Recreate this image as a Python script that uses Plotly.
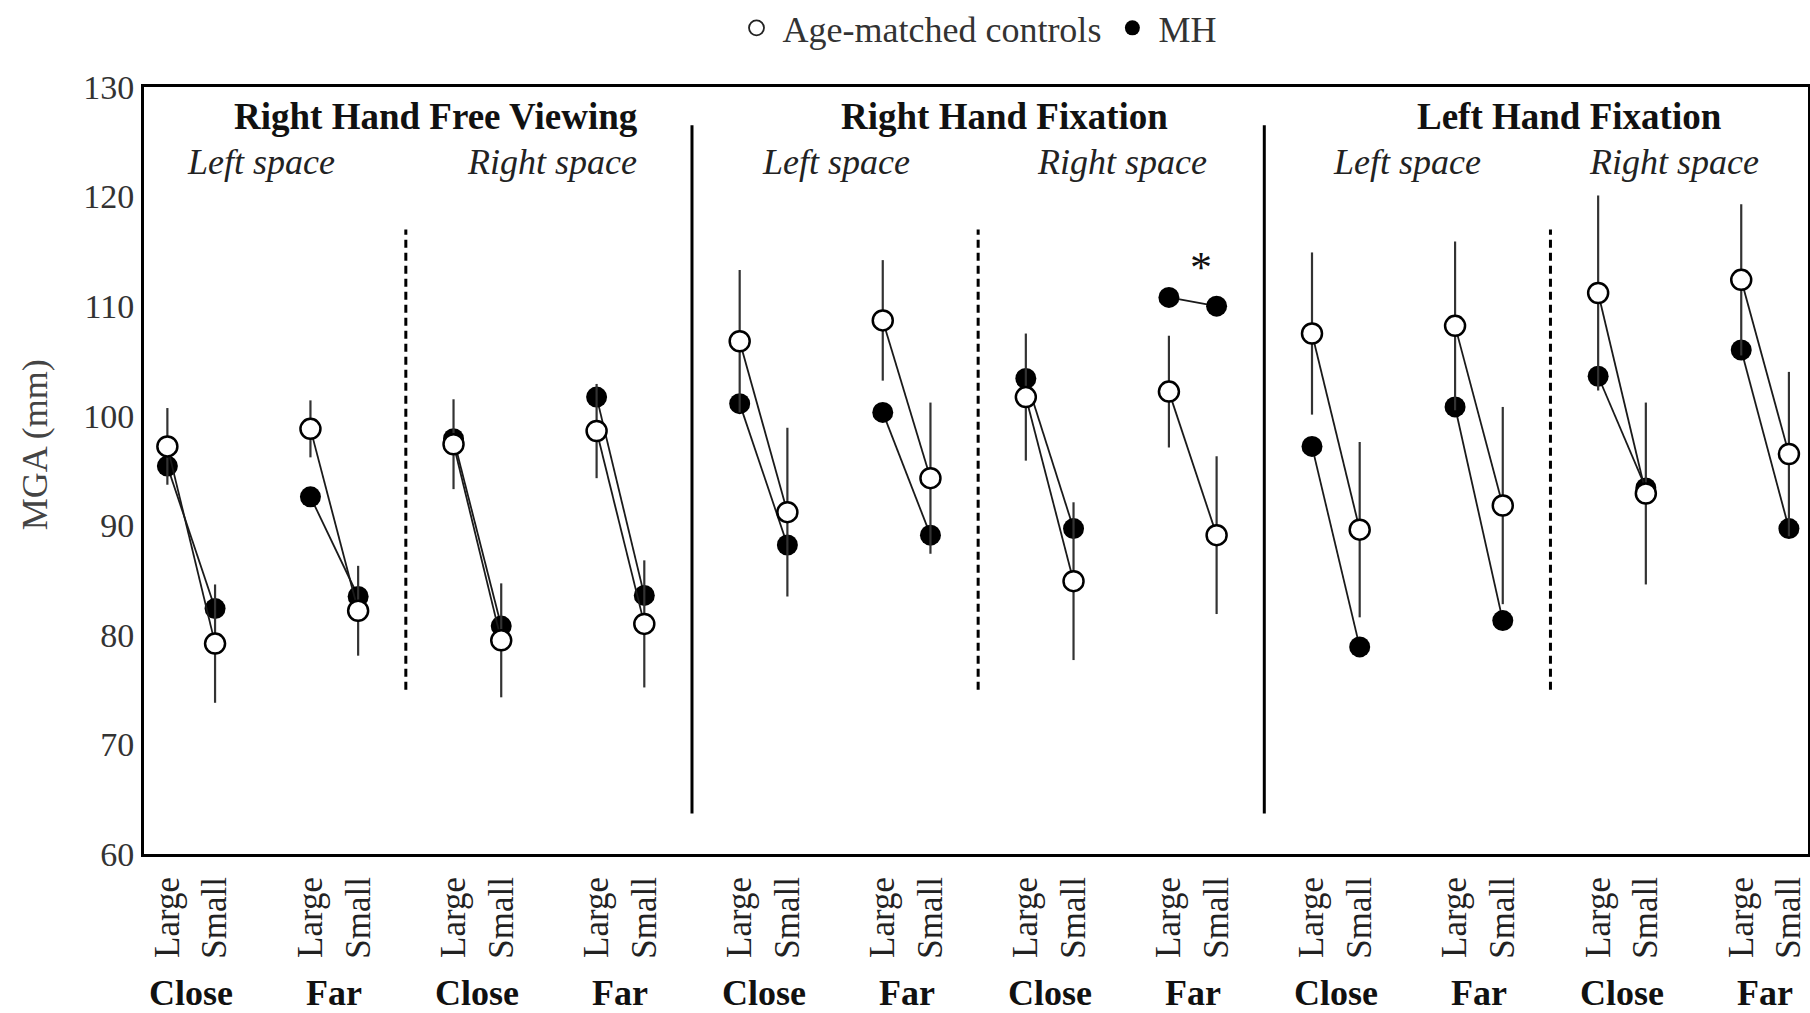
import plotly.graph_objects as go

# ---------------- data ----------------
distance = ["Close", "Far"] * 6
size_labels = ["Large", "Small"]

ctrl_large = [97.2, 98.8, 97.4, 98.6, 106.8, 108.7, 101.7, 102.2, 107.5, 108.2, 111.2, 112.4]
ctrl_small = [79.2, 82.2, 79.5, 81.0, 91.2, 94.3, 84.9, 89.1, 89.6, 91.8, 92.9, 96.5]
ctrl_sd_large = [3.5, 2.6, 4.1, 4.3, 6.5, 5.5, 5.8, 5.1, 7.4, 7.7, 8.9, 6.9]
ctrl_sd_small = [5.4, 4.1, 5.2, 5.8, 7.7, 6.9, 7.2, 7.2, 8.0, 9.0, 8.3, 7.5]

mh_large = [95.4, 92.6, 97.9, 101.7, 101.1, 100.3, 103.4, 110.8, 97.2, 100.8, 103.6, 106.0]
mh_small = [82.4, 83.5, 80.8, 83.6, 88.2, 89.1, 89.7, 110.0, 78.9, 81.3, 93.4, 89.7]

panel_titles = ["Right Hand Free Viewing", "Right Hand Fixation", "Left Hand Fixation"]
space_labels = ["Left space", "Right space"] * 3
y_ticks = [60, 70, 80, 90, 100, 110, 120, 130]

# ---------------- layout helpers ----------------
FONT = "Liberation Serif"
panel_title_x = [5.64, 17.55, 29.4]
space_label_x = [1.96, 8.06, 14.02, 20.02, 26.0, 31.6]
solid_sep_x = [11, 23]
dashed_sep_x = [5, 17, 29]


def pos(g, s):
    return 3 * g + s


def series(large, small, err_l=None, err_s=None):
    xs, ys, es = [], [], []
    for g in range(len(large)):
        xs += [pos(g, 0), pos(g, 1), None]
        ys += [large[g], small[g], None]
        if err_l is not None:
            es += [err_l[g], err_s[g], 0]
    return xs, ys, es


fig = go.Figure()

# MH (single patient) - drawn first
mx, my, _ = series(mh_large, mh_small)
fig.add_trace(go.Scatter(
    x=mx, y=my, mode="lines+markers", showlegend=False,
    line=dict(color="#1a1a1a", width=1.8),
    marker=dict(size=21, color="black", line=dict(width=0)),
))

# Age-matched controls with SD
cx, cy, ce = series(ctrl_large, ctrl_small, ctrl_sd_large, ctrl_sd_small)
fig.add_trace(go.Scatter(
    x=cx, y=cy, mode="lines+markers", showlegend=False,
    line=dict(color="#1a1a1a", width=1.8),
    marker=dict(size=20, color="white", line=dict(color="black", width=2.5)),
    error_y=dict(type="data", array=ce, visible=True, color="#333333", thickness=2.2, width=0),
))

# legend entries
fig.add_trace(go.Scatter(
    x=[None], y=[None], mode="markers", name="Age-matched controls",
    marker=dict(size=15, color="white", line=dict(color="#222", width=1.8)),
))
fig.add_trace(go.Scatter(
    x=[None], y=[None], mode="markers", name="MH",
    marker=dict(size=15, color="black"),
))

# separators
shapes = []
for x in solid_sep_x:
    shapes.append(dict(type="line", xref="x", yref="y", x0=x, x1=x, y0=63.7, y1=126.5,
                       line=dict(color="black", width=3)))
for x in dashed_sep_x:
    shapes.append(dict(type="line", xref="x", yref="y", x0=x, x1=x, y0=75, y1=117,
                       line=dict(color="black", width=3, dash="8px,5px")))

annotations = []
for t, x in zip(panel_titles, panel_title_x):
    annotations.append(dict(x=x, y=127.3, xref="x", yref="y", text="<b>%s</b>" % t, showarrow=False,
                            font=dict(family=FONT, size=37, color="#111")))
for t, x in zip(space_labels, space_label_x):
    annotations.append(dict(x=x, y=123.2, xref="x", yref="y", text="<i>%s</i>" % t, showarrow=False,
                            font=dict(family=FONT, size=36, color="#222")))
for g, d in enumerate(distance):
    annotations.append(dict(x=pos(g, 0.5), y=-0.21, xref="x", yref="paper", text="<b>%s</b>" % d,
                            showarrow=False, font=dict(family=FONT, size=36, color="#111")))
annotations.append(dict(x=pos(7, 0.67), y=113.5, xref="x", yref="y", text="*", showarrow=False,
                        font=dict(family=FONT, size=44, color="#111")))
annotations.append(dict(x=-0.0655, y=97.3, xref="paper", yref="y", xanchor="center", yanchor="middle",
                        text="MGA (mm)", textangle=-90,
                        showarrow=False, font=dict(family=FONT, size=36, color="#444")))

tickvals = [pos(g, s) for g in range(12) for s in (0, 1)]
ticktext = size_labels * 12

fig.update_layout(
    width=1810, height=1013,
    margin=dict(l=144, r=2, t=87, b=159, autoexpand=False),
    paper_bgcolor="white", plot_bgcolor="white",
    font=dict(family=FONT, size=33, color="#222"),
    shapes=shapes, annotations=annotations,
    legend=dict(orientation="h", x=0.5, xanchor="center", y=1.077, yanchor="middle",
                itemwidth=42,
                font=dict(family=FONT, size=36, color="#333"), bgcolor="rgba(0,0,0,0)"),
    xaxis=dict(range=[-0.49, 34.4], tickvals=tickvals, ticktext=ticktext, tickangle=-90,
               tickfont=dict(family=FONT, size=35, color="#222"), showgrid=False, zeroline=False,
               showline=True, mirror=True, linecolor="black", linewidth=3, ticks="",
               ticklabelstandoff=6, automargin=False),
    yaxis=dict(range=[60, 130], tickvals=y_ticks, tickfont=dict(family=FONT, size=34, color="#333"),
               showgrid=False, zeroline=False, showline=True, mirror=True, linecolor="black",
               linewidth=3, ticks="", automargin=False),
)

fig.write_html("out.html", post_script="document.body.style.margin='0';")
